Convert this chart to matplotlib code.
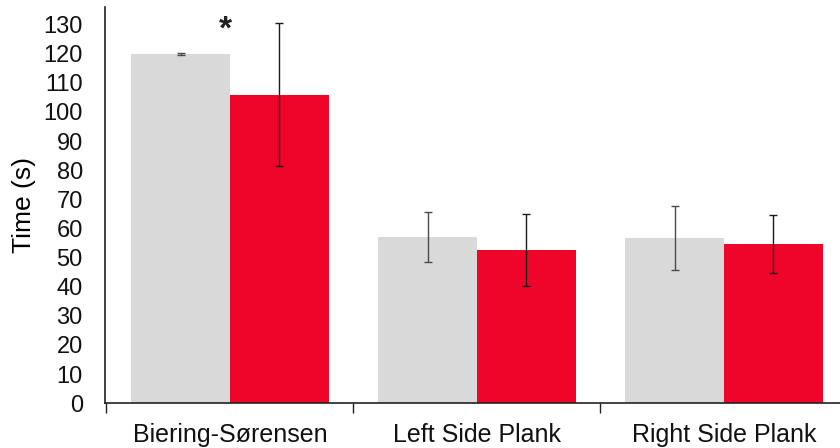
import numpy as np
import matplotlib
matplotlib.use('Agg')
import matplotlib.pyplot as plt

# mean hold times (s) and standard deviations per test
tests = ['Biering-Sørensen', 'Left Side Plank', 'Right Side Plank']
grey_mean = [120, 57, 56.6]
grey_sd = [0.3, 8.5, 11.0]
red_mean = [106, 52.7, 54.7]
red_sd = [24.5, 12.3, 9.9]
yticks = list(range(0, 131, 10))

plt.rcParams['font.family'] = ['Liberation Sans', 'DejaVu Sans']

fig = plt.figure(figsize=(8.4, 4.48), dpi=100)
ax = fig.add_axes([0.125, 0.10, 0.875, 0.884])

x = np.arange(len(tests))
w = 0.4
ax.bar(x - w / 2, grey_mean, w, color='#d9d9d9', zorder=1)
ax.bar(x + w / 2, red_mean, w, color='#f0052a', zorder=1)
ax.errorbar(x - w / 2, grey_mean, yerr=grey_sd, fmt='none',
            ecolor='#4a4a4a', elinewidth=1.0, capsize=3, capthick=1.0, zorder=2)
ax.errorbar(x + w / 2, red_mean, yerr=red_sd, fmt='none',
            ecolor='#1a1a1a', elinewidth=1.0, capsize=3, capthick=1.0, zorder=2)

# significance mark above the first group
ax.text(x[0] - 0.02, 128.3, '*', ha='center', va='center',
        fontsize=24, fontweight='bold', color='#222222')

ax.set_xlim(-0.506, 2.47)
ax.set_ylim(0, 136)
ax.set_yticks(yticks)
ax.tick_params(axis='y', length=0, labelsize=17, pad=16, colors='#111111')

# category labels at group centres, tick marks between groups
ax.set_xticks(x)
ax.set_xticklabels(tests, fontsize=18)
ax.tick_params(axis='x', which='major', length=0, pad=14, colors='#111111')
ax.set_xticks(np.arange(-0.5, 2.5, 1.0), minor=True)
ax.tick_params(axis='x', which='minor', length=7, width=1, direction='out',
               color='#222222')

ax.set_ylabel('Time (s)', fontsize=19, labelpad=5)

for side in ['top', 'right']:
    ax.spines[side].set_visible(False)
for side in ['left', 'bottom']:
    ax.spines[side].set_color('#222222')
    ax.spines[side].set_linewidth(1.2)

fig.savefig('out.png', dpi=100)
